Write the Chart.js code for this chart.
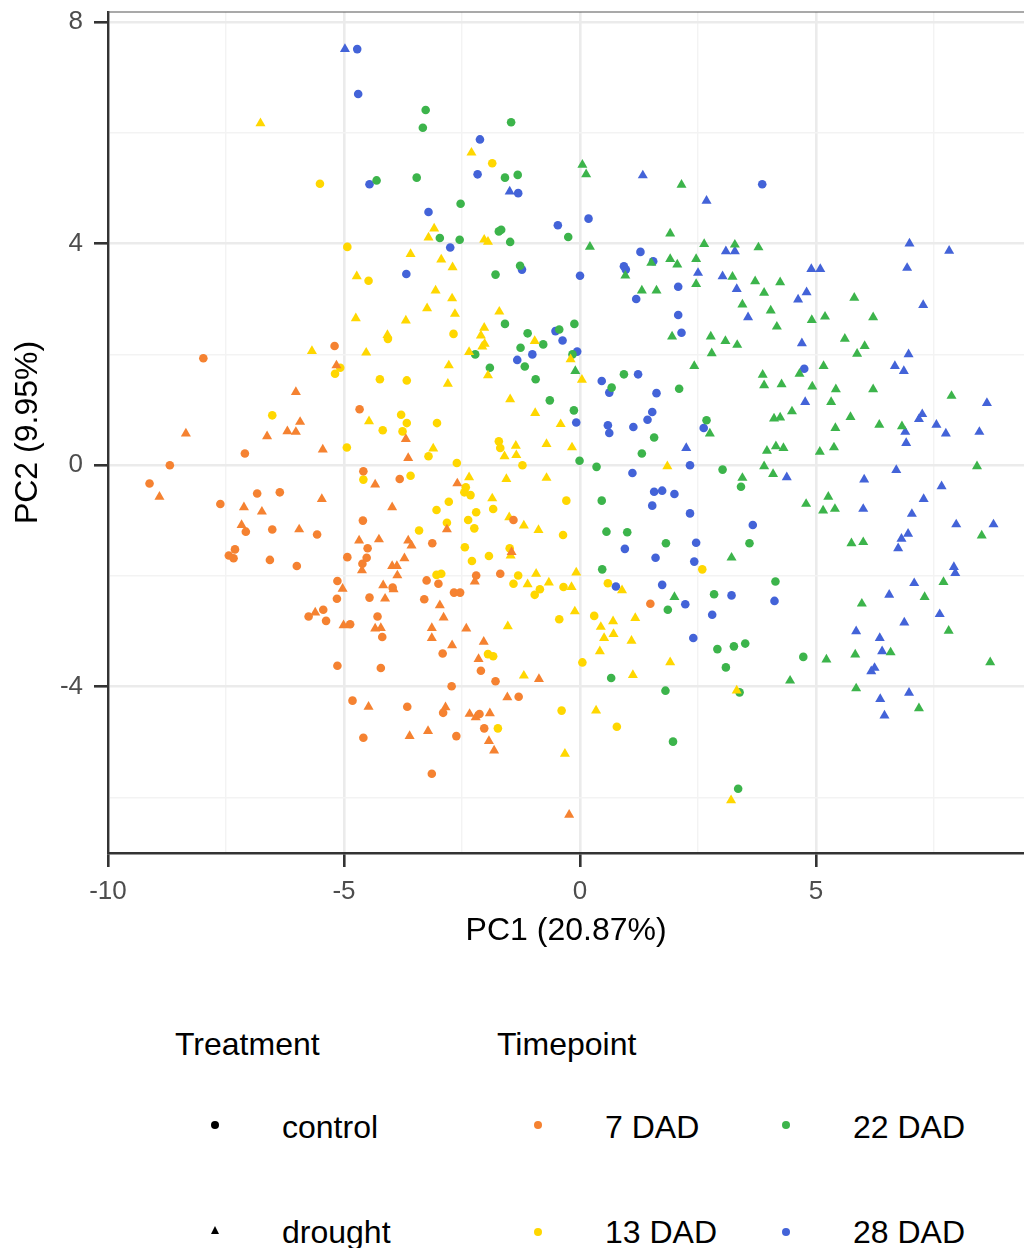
<!DOCTYPE html>
<html>
<head>
<meta charset="utf-8">
<script src="https://cdn.jsdelivr.net/npm/chart.js@4.4.1/dist/chart.umd.min.js"></script>
<style>
  body { margin: 0; background: #fff; font-family: "Liberation Sans", Arial, sans-serif; }
  #wrap { position: relative; width: 1024px; height: 1248px; overflow: hidden; }
  #chartBox { position: absolute; left: 0; top: 0; width: 1030px; height: 960px; }
  .lg { position: absolute; font-size: 32px; line-height: 32px; color: #000; white-space: nowrap; }
  .dot { position: absolute; width: 8px; height: 8px; border-radius: 50%; }
  .tri { position: absolute; width: 0; height: 0; border-left: 4.5px solid transparent;
         border-right: 4.5px solid transparent; border-bottom: 8px solid #000; }
</style>
</head>
<body>
<div id="wrap">
  <div id="chartBox"><canvas id="pca"></canvas></div>
  <div id="legend"></div>
</div>
<script>
// legend / axis text
const treatments = ['control', 'drought'];
const timepoints = ['7 DAD', '13 DAD', '22 DAD', '28 DAD'];
const tpColors = ['#f58231', '#ffd700', '#3cb44b', '#4363d8'];
const xTickLabels = [-10, -5, 0, 5];
const yTickLabels = [-4, 0, 4, 8];
const xTitle = 'PC1 (20.87%)';
const yTitle = 'PC2 (9.95%)';

// [PC1, PC2] per group
const ctrl7 = [[-5.20,2.15],[-7.98,1.93],[-4.67,1.01],[-7.10,0.21],[-8.69,0.00],[-9.12,-0.33],[-4.59,-0.11],
  [-3.82,-0.25],[-7.62,-0.70],[-6.84,-0.51],[-6.36,-0.49],[-7.08,-1.20],[-6.52,-1.16],[-5.57,-1.25],[-4.60,-1.00],
  [-7.31,-1.52],[-7.44,-1.63],[-7.34,-1.68],[-6.57,-1.71],[-6.00,-1.82],[-4.93,-1.66],[-4.50,-1.50],[-4.52,-1.67],
  [-4.61,-1.78],[-5.14,-2.09],[-3.97,-2.21],[-5.15,-2.41],[-4.46,-2.39],[-5.44,-2.61],[-5.75,-2.73],[-5.38,-2.81],
  [-4.29,-2.73],[-4.87,-2.87],[-4.19,-3.10],[-5.14,-3.62],[-4.22,-3.66],[-4.82,-4.25],[-3.66,-4.36],[-4.59,-4.92],
  [-2.20,-1.99],[-1.69,-1.96],[-3.25,-2.08],[-3.00,-2.14],[-2.67,-2.30],[-2.54,-2.30],[-3.30,-2.42],[-2.91,-3.40],
  [-2.10,-3.71],[-1.79,-3.90],[1.49,-2.50],[-2.72,-3.99],[-2.90,-4.47],[-2.13,-4.49],[-1.30,-4.18],[-2.03,-4.75],
  [-2.62,-4.89],[-3.14,-5.57],[-1.41,-0.99],[-3.13,-1.41]];
const drought7 = [[-5.16,1.80],[-6.02,1.32],[-5.93,0.78],[-6.20,0.61],[-6.02,0.60],[-6.63,0.52],[-8.35,0.57],
  [-3.69,0.47],[-5.45,0.28],[-3.64,0.13],[-8.91,-0.57],[-4.34,-0.35],[-5.47,-0.61],[-7.12,-0.76],[-6.74,-0.84],
  [-3.98,-0.76],[-7.17,-1.08],[-5.95,-1.16],[-4.68,-1.36],[-4.26,-1.34],[-3.64,-1.36],[-3.57,-1.45],[-4.62,-1.90],
  [-3.72,-1.68],[-3.98,-1.82],[-3.88,-1.82],[-3.87,-1.99],[-5.03,-2.23],[-4.17,-2.17],[-3.95,-2.24],[-4.13,-2.41],
  [-5.61,-2.66],[-5.01,-2.89],[-4.34,-2.95],[-4.22,-2.94],[-4.48,-4.36],[-3.61,-4.89],[-2.23,-2.10],[-2.97,-2.53],
  [-2.89,-2.75],[-3.14,-2.94],[-3.14,-3.12],[-2.71,-3.25],[-2.41,-2.95],[-2.04,-3.19],[-2.15,-3.50],[-0.87,-3.86],
  [-2.85,-4.37],[-2.34,-4.49],[-2.21,-4.55],[-1.91,-4.48],[-1.54,-4.19],[-3.22,-4.80],[-1.93,-4.98],[-1.82,-5.15],
  [-0.23,-6.31],[-2.60,-0.33],[-2.82,-1.16],[-1.45,-1.57]];
const ctrl13 = [[-5.51,5.08],[-4.93,3.94],[-4.48,3.33],[-1.86,5.45],[-4.07,2.28],[-5.08,1.76],[-5.19,1.65],
  [-4.24,1.55],[-3.67,1.53],[-6.52,0.90],[-3.79,0.91],[-3.67,0.76],[-4.18,0.63],[-3.76,0.61],[-4.94,0.32],
  [-4.59,-0.26],[-3.59,-0.19],[-2.68,2.37],[-3.03,0.76],[-1.72,0.43],[-1.69,0.31],[-3.21,0.16],[-2.61,0.04],
  [-1.22,0.00],[-2.42,-0.40],[-2.45,-0.49],[-2.32,-0.54],[-1.84,-0.79],[-2.78,-0.66],[-3.04,-0.81],[-2.20,-0.85],
  [-2.37,-0.99],[-2.82,-1.04],[-2.24,-1.14],[-3.41,-1.18],[-0.29,-0.64],[-0.36,-1.26],[-2.44,-1.48],[-1.49,-1.50],
  [-1.93,-1.64],[-2.29,-1.73],[2.59,-1.88],[-3.04,-1.98],[-2.94,-1.96],[-1.31,-1.99],[-1.41,-2.14],[-0.96,-2.34],
  [-0.85,-2.24],[-0.35,-2.20],[-0.44,-2.78],[0.59,-2.13],[-1.95,-3.41],[-1.84,-3.45],[0.30,-2.72],[0.05,-3.56],
  [-1.74,-4.75],[-0.39,-4.43],[0.78,-4.72]];
const drought13 = [[-6.77,6.17],[-3.59,3.81],[-4.73,3.41],[-2.30,5.64],[-3.09,4.27],[-3.21,4.11],[-2.03,4.07],
  [-1.95,4.03],[-2.94,3.71],[-2.70,3.57],[-3.06,3.15],[-4.75,2.65],[-3.69,2.61],[-4.08,2.35],[-5.68,2.06],
  [-4.53,2.03],[-4.47,0.79],[-2.71,3.01],[-3.24,2.83],[-2.65,2.73],[-1.71,2.77],[-2.03,2.48],[-2.10,2.34],
  [-2.02,2.19],[-2.07,2.14],[-2.35,2.04],[-0.96,2.24],[-0.20,1.91],[-1.95,1.62],[0.04,1.54],[-2.78,1.80],
  [-2.80,1.47],[-1.48,1.19],[-0.95,0.94],[-0.41,0.74],[1.85,-0.02],[-1.36,0.35],[-1.60,0.16],[-1.35,0.18],
  [-0.71,0.38],[-0.17,0.32],[-3.11,0.30],[-2.35,-0.22],[-1.56,-0.25],[-0.71,-0.23],[-1.86,-0.60],[-1.50,-0.94],
  [-1.19,-1.09],[-0.88,-1.17],[-1.47,-1.63],[-0.93,-1.96],[-0.08,-1.94],[-1.53,-2.91],[-1.19,-3.80],[-1.11,-2.15],
  [-0.66,-2.12],[-0.18,-2.20],[-0.11,-2.64],[0.89,-2.26],[0.44,-2.92],[0.70,-2.82],[0.71,-3.05],[0.51,-3.12],
  [1.17,-2.76],[1.09,-3.17],[0.42,-3.36],[1.91,-3.56],[1.12,-3.79],[0.34,-4.43],[-0.32,-5.21],[3.32,-4.07],
  [3.20,-6.05]];
const ctrl22 = [[-4.31,5.14],[-3.46,5.19],[-3.27,6.41],[-3.33,6.09],[-1.46,6.19],[-1.59,5.19],[-1.32,5.24],
  [-2.53,4.72],[-2.97,4.10],[-2.55,4.07],[-1.72,4.22],[-1.67,4.25],[-1.48,4.03],[-0.25,4.12],[-1.27,3.60],
  [-1.79,3.44],[-1.59,2.55],[-2.22,2.00],[-1.11,2.38],[-1.26,2.12],[-0.78,2.18],[-0.44,2.45],[-0.12,2.55],
  [-1.17,1.78],[-0.16,2.00],[-1.91,1.76],[-0.94,1.55],[-0.64,1.17],[-0.13,0.99],[0.93,1.64],[0.67,1.40],
  [2.10,1.38],[1.57,0.50],[2.68,0.81],[1.31,0.21],[-0.01,0.08],[0.35,-0.03],[0.46,-0.64],[0.56,-1.20],
  [1.00,-1.21],[1.82,-1.41],[0.47,-1.88],[3.02,-0.08],[3.41,-0.39],[3.59,-1.41],[1.86,-2.61],[2.84,-2.33],
  [0.66,-3.84],[1.81,-4.07],[1.97,-4.99],[4.14,-2.10],[2.91,-3.32],[3.26,-3.27],[3.50,-3.22],[4.73,-3.46],
  [3.09,-3.65],[3.38,-4.10],[3.35,-5.84]];
const drought22 = [[0.05,5.42],[0.13,5.25],[2.15,5.06],[0.21,3.94],[1.91,4.18],[2.63,3.99],[1.51,3.65],
  [0.96,3.42],[1.91,3.72],[2.06,3.62],[2.46,3.72],[2.46,3.27],[1.31,3.15],[1.62,3.15],[3.28,3.98],[3.78,3.93],
  [3.23,3.40],[3.71,3.32],[4.24,3.30],[3.90,3.11],[5.81,3.02],[-0.10,1.70],[1.95,2.32],[2.77,2.32],[2.79,2.02],
  [2.42,1.79],[2.75,0.57],[3.44,2.90],[4.04,2.79],[4.91,2.62],[5.19,2.68],[6.21,2.67],[4.17,2.50],[3.08,2.24],
  [3.33,2.17],[5.61,2.28],[6.03,2.15],[5.87,2.01],[4.65,1.65],[5.16,1.79],[3.87,1.63],[3.90,1.44],[4.27,1.46],
  [4.92,1.42],[5.42,1.37],[6.21,1.37],[7.87,1.25],[5.32,1.14],[4.49,0.97],[4.11,0.84],[4.24,0.86],[5.73,0.87],
  [6.34,0.73],[6.82,0.70],[5.41,0.67],[3.96,0.26],[4.15,0.34],[4.31,0.31],[5.08,0.24],[5.38,0.32],[3.90,-0.02],
  [4.09,-0.16],[3.44,-0.23],[8.41,-0.02],[5.26,-0.57],[4.79,-0.70],[5.15,-0.82],[5.40,-0.79],[5.75,-1.41],
  [6.00,-1.39],[8.51,-1.27],[3.21,-1.67],[2.00,-2.38],[7.70,-2.11],[7.30,-2.38],[5.97,-2.50],[7.81,-2.99],
  [6.58,-3.38],[5.22,-3.51],[5.83,-3.42],[8.69,-3.56],[4.45,-3.89],[5.85,-4.03],[7.18,-4.39]];
const ctrl28 = [[-4.72,7.51],[-4.70,6.70],[-4.46,5.07],[-3.68,3.45],[-2.12,5.88],[-2.17,5.25],[-1.31,4.91],
  [-3.21,4.57],[-2.75,3.93],[-0.47,4.33],[0.18,4.45],[-1.23,3.53],[0.00,3.42],[1.28,3.85],[1.55,3.68],
  [0.93,3.59],[0.97,3.53],[2.08,3.22],[3.86,5.07],[-0.52,2.42],[-0.37,2.25],[-1.01,2.00],[-1.33,1.90],
  [-0.06,2.05],[-0.08,0.77],[1.19,3.00],[2.08,2.71],[2.15,2.39],[0.46,1.52],[1.23,1.64],[0.62,1.31],[1.62,1.30],
  [1.53,0.96],[1.43,0.82],[0.59,0.72],[0.62,0.58],[1.13,0.69],[2.62,0.67],[2.33,0.00],[1.11,-0.14],[1.57,-0.48],
  [1.74,-0.46],[2.00,-0.52],[1.53,-0.73],[2.33,-0.87],[2.46,-1.40],[0.95,-1.51],[1.60,-1.67],[2.42,-1.74],
  [4.75,1.74],[3.66,-1.08],[0.76,-2.19],[1.74,-2.16],[2.23,-2.51],[2.80,-2.70],[2.40,-3.12],[3.21,-2.35],
  [4.12,-2.45]];
const drought28 = [[-4.98,7.51],[-1.49,4.94],[1.33,5.23],[2.68,4.77],[2.50,3.47],[3.02,3.41],[3.09,3.86],
  [3.28,3.86],[6.98,4.00],[7.82,3.87],[4.90,3.54],[5.09,3.54],[6.93,3.56],[3.32,3.18],[4.80,3.12],[2.25,0.31],
  [4.62,2.99],[7.27,2.89],[3.56,2.67],[4.70,2.20],[6.96,2.00],[6.67,1.79],[6.86,1.70],[8.62,1.12],[4.77,1.14],
  [7.25,0.92],[7.18,0.83],[6.89,0.60],[7.55,0.73],[7.75,0.57],[8.46,0.60],[6.91,0.40],[4.38,-0.22],[6.70,-0.09],
  [6.02,-0.26],[7.66,-0.38],[6.00,-0.79],[7.28,-0.61],[7.03,-0.88],[7.97,-1.07],[8.76,-1.07],[6.95,-1.24],
  [6.81,-1.33],[6.74,-1.50],[7.92,-1.84],[7.95,-1.95],[7.08,-2.13],[6.55,-2.34],[7.62,-2.69],[6.87,-2.84],
  [5.85,-3.00],[6.35,-3.12],[6.40,-3.36],[6.24,-3.66],[6.17,-3.72],[6.36,-4.22],[6.97,-4.11],[6.45,-4.52]];

const groups = [
  [ctrl7, drought7], [ctrl13, drought13], [ctrl22, drought22], [ctrl28, drought28]
];

const datasets = [];
groups.forEach((pair, i) => {
  pair.forEach((pts, j) => {
    const tri = j === 1;
    datasets.push({
      label: timepoints[i] + ' ' + treatments[j],
      data: pts.map(p => ({ x: p[0], y: p[1] })),
      pointStyle: tri ? 'triangle' : 'circle',
      pointRadius: tri ? 5.8 : 4.3,
      backgroundColor: tpColors[i],
      borderWidth: 0,
    });
  });
});

const isMajor = (list, v) => list.some(t => Math.abs(t - v) < 1e-6);

// thin panel edge along the top, as in the ggplot output
const topEdge = {
  id: 'topEdge',
  beforeDatasetsDraw(chart) {
    const { ctx, chartArea } = chart;
    ctx.save();
    ctx.strokeStyle = '#555555';
    ctx.lineWidth = 1.2;
    ctx.beginPath();
    ctx.moveTo(chartArea.left, chartArea.top);
    ctx.lineTo(chartArea.right, chartArea.top);
    ctx.stroke();
    ctx.restore();
  }
};

new Chart(document.getElementById('pca'), {
  type: 'scatter',
  data: { datasets: datasets },
  plugins: [topEdge],
  options: {
    responsive: true,
    maintainAspectRatio: false,
    devicePixelRatio: 1,
    animation: false,
    events: [],
    layout: { padding: { top: 12, left: 0, right: 0, bottom: 0 } },
    plugins: { legend: { display: false }, tooltip: { enabled: false } },
    scales: {
      x: {
        type: 'linear', min: -10, max: 9.41,
        afterFit: s => { s.height = 107; s.paddingLeft = 0; s.paddingRight = 0; },
        ticks: {
          stepSize: 2.5, includeBounds: false, autoSkip: false, maxRotation: 0,
          padding: 9, color: '#4d4d4d',
          font: { family: 'Liberation Sans', size: 26 },
          callback: v => isMajor(xTickLabels, v) ? String(v) : ''
        },
        grid: {
          color: c => isMajor(xTickLabels, c.tick.value) ? '#ebebeb' : '#f3f3f3',
          lineWidth: c => isMajor(xTickLabels, c.tick.value) ? 2.6 : 1.4,
          tickColor: c => isMajor(xTickLabels, c.tick.value) ? '#333333' : 'rgba(0,0,0,0)',
          tickLength: 14, tickWidth: 2.6
        },
        border: { display: true, color: '#333333', width: 2.4 },
        title: {
          display: true, text: xTitle, color: '#000',
          font: { family: 'Liberation Sans', size: 32 },
          padding: { top: 0, bottom: 10 }
        }
      },
      y: {
        type: 'linear', min: -7.0, max: 8.18,
        afterFit: s => { s.width = 108; s.paddingTop = 0; s.paddingBottom = 0; },
        ticks: {
          stepSize: 2, includeBounds: false, autoSkip: false,
          padding: 11, color: '#4d4d4d',
          font: { family: 'Liberation Sans', size: 26 },
          callback: v => isMajor(yTickLabels, v) ? String(v) : ''
        },
        grid: {
          color: c => isMajor(yTickLabels, c.tick.value) ? '#ebebeb' : '#f3f3f3',
          lineWidth: c => isMajor(yTickLabels, c.tick.value) ? 2.6 : 1.4,
          tickColor: c => isMajor(yTickLabels, c.tick.value) ? '#333333' : 'rgba(0,0,0,0)',
          tickLength: 14, tickWidth: 2.6
        },
        border: { display: true, color: '#333333', width: 2.4 },
        title: {
          display: true, text: yTitle, color: '#000',
          font: { family: 'Liberation Sans', size: 32 },
          padding: { top: 9, bottom: 0 }
        }
      }
    }
  }
});

// bottom legend, laid out like the ggplot guide
function addText(txt, left, top) {
  const d = document.createElement('div');
  d.className = 'lg';
  d.textContent = txt;
  d.style.left = left + 'px';
  d.style.top = top + 'px';
  document.getElementById('legend').appendChild(d);
}
function addKey(cls, color, cx, cy) {
  const d = document.createElement('div');
  d.className = cls;
  if (cls === 'dot') {
    d.style.background = color;
    d.style.left = (cx - 4) + 'px';
    d.style.top = (cy - 4) + 'px';
  } else {
    d.style.borderBottomColor = color;
    d.style.left = (cx - 4.5) + 'px';
    d.style.top = (cy - 4) + 'px';
  }
  document.getElementById('legend').appendChild(d);
}
addText('Treatment', 175, 1028);
addText('Timepoint', 497, 1028);
addKey('dot', '#000', 215, 1125);
addText(treatments[0], 282, 1111);
addKey('tri', '#000', 215, 1230);
addText(treatments[1], 282, 1216);
const keyPos = [[538, 1125], [538, 1232], [786, 1125], [786, 1232]];
timepoints.forEach((t, i) => {
  const [cx, cy] = keyPos[i];
  addKey('dot', tpColors[i], cx, cy);
  addText(t, cx + 67, cy - 14 - (cy > 1200 ? 2 : 0));
});
</script>
</body>
</html>
